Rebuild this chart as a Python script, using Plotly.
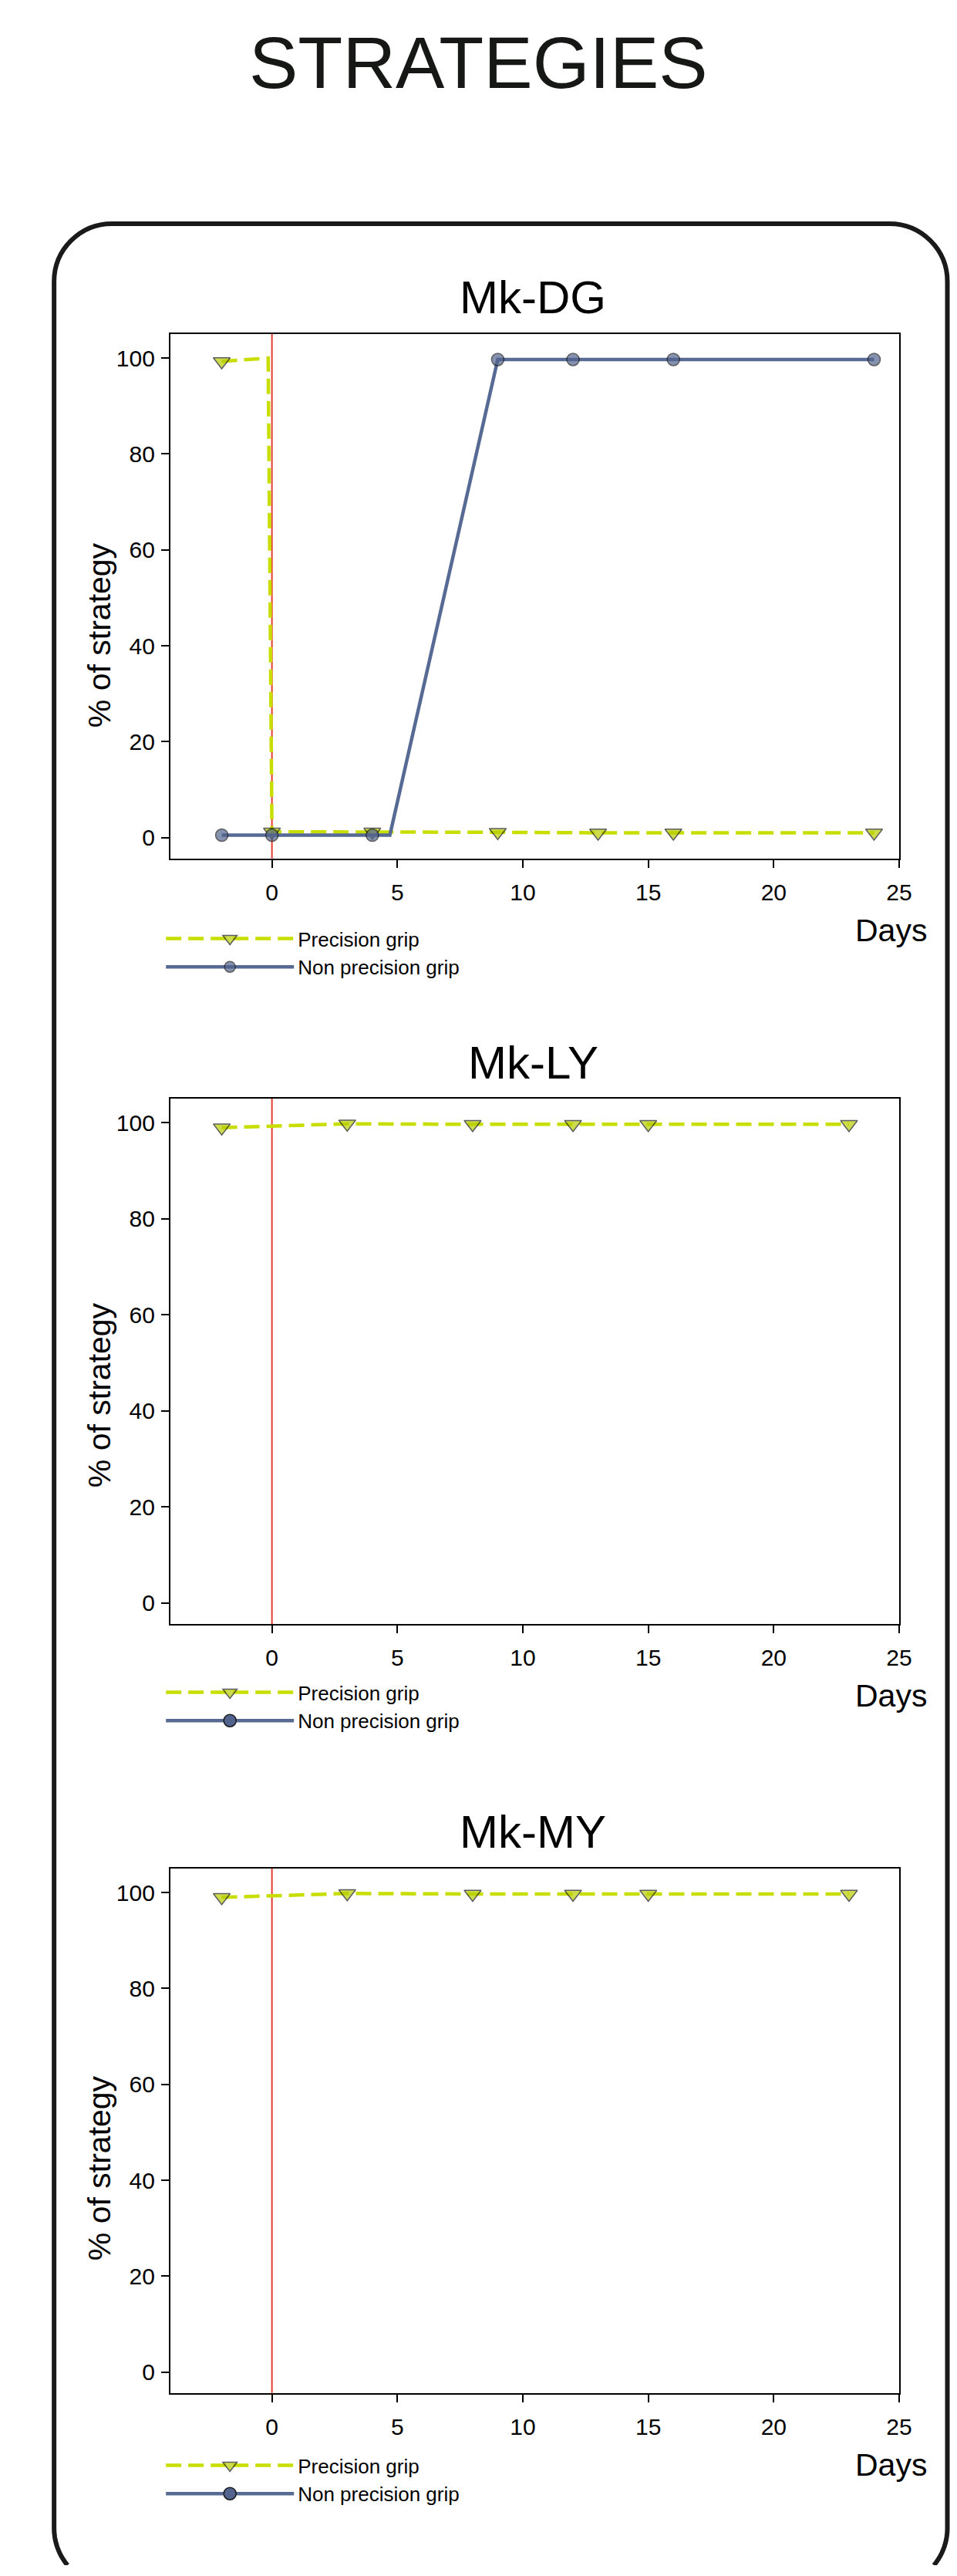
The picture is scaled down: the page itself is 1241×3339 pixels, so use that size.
import math
import plotly.graph_objects as go

PAGE_W, PAGE_H = 1241, 3339
OFF = 8                      # default body margin of the html page
SX = 1.0142                  # the page is captured ~1.4% wider than the picture
CW = round(PAGE_W * SX)
SLACK = 6
FW, FH = CW - 2 * OFF, PAGE_H - 2 * OFF - SLACK

# ---------------- data ----------------
days_ticks = [0, 5, 10, 15, 20, 25]
pct_ticks = [0, 20, 40, 60, 80, 100]

series_names = ["Precision grip", "Non precision grip"]
panel_titles = ["Mk-DG", "Mk-LY", "Mk-MY"]

# Mk-DG
dg_prec_days = [-2, -0.15, 0, 4, 9, 13, 16, 24]
dg_prec_pct = [99.3, 100, 1.2, 1.2, 1.1, 1.0, 1.0, 1.0]
dg_prec_marked = [True, False, True, True, True, True, True, True]
dg_non_days = [-2, 0, 4, 4.7, 9, 12, 16, 24]
dg_non_pct = [0.5, 0.5, 0.5, 0.5, 99.7, 99.7, 99.7, 99.7]
dg_non_marked = [True, True, True, False, True, True, True, True]

# Mk-LY
ly_prec_days = [-2, 3, 8, 12, 15, 23]
ly_prec_pct = [99.0, 99.8, 99.7, 99.7, 99.7, 99.7]
ly_non_days = []
ly_non_pct = []

# Mk-MY
my_prec_days = [-2, 3, 8, 12, 15, 23]
my_prec_pct = [99.0, 99.8, 99.7, 99.7, 99.7, 99.7]
my_non_days = []
my_non_pct = []

# ---------------- style ----------------
FONT = "Liberation Sans, Arial, Helvetica, sans-serif"
GREEN_LINE = "rgb(200,222,0)"
GREEN_FILL = "rgb(184,206,0)"
BLUE_LINE = "rgb(86,106,148)"
BLUE_FILL = "rgb(82,100,142)"
RED = "rgb(230,62,46)"
TRI = 19
CIRC = 16


def pxx(p):
    """target picture x -> figure paper x"""
    return (p * SX - OFF) / FW


def pxy(p):
    """target picture y -> figure paper y"""
    return 1 - (p - OFF) / FH


frames = [(432.7, 1112.7), (1424.0, 2105.0), (2421.7, 3101.7)]
legend_tops = [1193, 2170, 3172]
ylabel_centers = [823, 1808, 2810]
X_LEFT, X_RIGHT = 220.7, 1165.5
LEG_W = 166

fig = go.Figure()

panel_data = [
    (dg_prec_days, dg_prec_pct, dg_prec_marked, dg_non_days, dg_non_pct, dg_non_marked),
    (ly_prec_days, ly_prec_pct, [True] * len(ly_prec_days), ly_non_days, ly_non_pct, []),
    (my_prec_days, my_prec_pct, [True] * len(my_prec_days), my_non_days, my_non_pct, []),
]

for i, (pdays, ppct, pmark, ndays, npct, nmark) in enumerate(panel_data):
    sfx = "" if i == 0 else str(i + 1)
    leg = "legend" + sfx
    fig.add_trace(go.Scatter(
        x=pdays, y=ppct, mode="lines+markers", name=series_names[0],
        xaxis="x" + sfx, yaxis="y" + sfx, legend=leg,
        line=dict(color=GREEN_LINE, width=4.5, dash="20px,9px"),
        marker=dict(symbol="triangle-down", size=[TRI if m else 0 for m in pmark],
                    color=GREEN_FILL, line=dict(color="#1a1a1a", width=1.5)),
    ))
    fig.add_trace(go.Scatter(
        x=ndays if ndays else [None], y=npct if npct else [None],
        mode="lines+markers", name=series_names[1],
        xaxis="x" + sfx, yaxis="y" + sfx, legend=leg,
        line=dict(color=BLUE_LINE, width=4.5),
        marker=dict(symbol="circle", size=[CIRC if m else 0 for m in nmark] if nmark else CIRC,
                    color=BLUE_FILL, line=dict(color="#1a1a1a", width=1.5)),
    ))

layout = dict(
    width=FW, height=FH, autosize=False, margin=dict(l=0, r=0, t=0, b=0),
    paper_bgcolor="white", plot_bgcolor="rgba(0,0,0,0)",
    font=dict(family=FONT, color="black"),
    showlegend=True,
)

annotations = [dict(text="STRATEGIES", x=pxx(620), y=pxy(81), xref="paper", yref="paper",
                    showarrow=False, font=dict(size=95, family=FONT, color="#161816"),
                    xanchor="center", yanchor="middle")]
shapes = []

for i, (top, bot) in enumerate(frames):
    sfx = "" if i == 0 else str(i + 1)
    axcommon = dict(showline=True, linecolor="black", linewidth=2, mirror=True,
                    ticks="outside", ticklen=10, tickwidth=2, tickcolor="black",
                    showgrid=False, zeroline=False,
                    tickfont=dict(size=30, family=FONT, color="black"))
    layout["xaxis" + sfx] = dict(domain=[pxx(X_LEFT), pxx(X_RIGHT)], range=[-4.05, 25],
                                 tickvals=days_ticks, anchor="y" + sfx,
                                 ticklabelstandoff=6, **axcommon)
    layout["yaxis" + sfx] = dict(domain=[pxy(bot), pxy(top)], range=[-4.35, 105.05],
                                 tickvals=pct_ticks, anchor="x" + sfx,
                                 ticklabelstandoff=2, **axcommon)
    layout["legend" + sfx] = dict(x=pxx(210), y=pxy(legend_tops[i]), xref="paper", yref="paper",
                                  xanchor="left", yanchor="top", itemwidth=LEG_W,
                                  font=dict(size=26, family=FONT, color="black"),
                                  bgcolor="rgba(0,0,0,0)", tracegroupgap=0,
                                  traceorder="normal")
    annotations.append(dict(text=panel_titles[i], x=pxx(691), y=pxy(top - 47),
                            xref="paper", yref="paper", showarrow=False,
                            font=dict(size=60, family=FONT, color="black"),
                            xanchor="center", yanchor="middle"))
    annotations.append(dict(text="Days", x=pxx(1155), y=pxy(bot + 93),
                            xref="paper", yref="paper", showarrow=False,
                            font=dict(size=41, family=FONT, color="black"),
                            xanchor="center", yanchor="middle"))
    annotations.append(dict(text="% of strategy", x=pxx(129), y=pxy(ylabel_centers[i]),
                            xref="paper", yref="paper", showarrow=False, textangle=-90,
                            font=dict(size=41, family=FONT, color="black"),
                            xanchor="center", yanchor="middle"))
    shapes.append(dict(type="line", xref="x" + sfx, yref="y" + sfx + " domain",
                       x0=0, x1=0, y0=0, y1=1, line=dict(color=RED, width=2), layer="below"))


def frame_path(x0, y0, x1, y1, r, y_cut):
    """Rounded frame whose bottom lies below the page; drawn only down to y_cut."""
    k = 0.5523 * r
    P = lambda x, y: f"{pxx(x):.6f},{pxy(y):.6f}"
    cy = y1 - r

    def arc(cx, side):
        pts = []
        n = 12
        ymax = min(y_cut, y1)
        for j in range(n + 1):
            yy = cy + (ymax - cy) * j / n
            dx = math.sqrt(max(r * r - (yy - cy) ** 2, 0))
            pts.append((cx - dx if side < 0 else cx + dx, yy))
        return pts

    left = arc(x0 + r, -1)[::-1]       # bottom -> up
    right = arc(x1 - r, +1)            # top -> down
    d = "M" + P(*left[0]) + " " + " ".join("L" + P(*p) for p in left[1:])
    d += f" L{P(x0, y0 + r)} C{P(x0, y0 + r - k)} {P(x0 + r - k, y0)} {P(x0 + r, y0)}"
    d += f" L{P(x1 - r, y0)} C{P(x1 - r + k, y0)} {P(x1, y0 + r - k)} {P(x1, y0 + r)}"
    d += " " + " ".join("L" + P(*p) for p in right)
    return d


shapes.append(dict(type="path", xref="paper", yref="paper",
                   path=frame_path(70, 290, 1228, 3352, 75, OFF + FH),
                   line=dict(color="#1a1a1a", width=6), fillcolor="rgba(0,0,0,0)"))

layout["annotations"] = annotations
layout["shapes"] = shapes
fig.update_layout(**layout)

fig.write_html("out.html", config={"displayModeBar": False, "responsive": False})
